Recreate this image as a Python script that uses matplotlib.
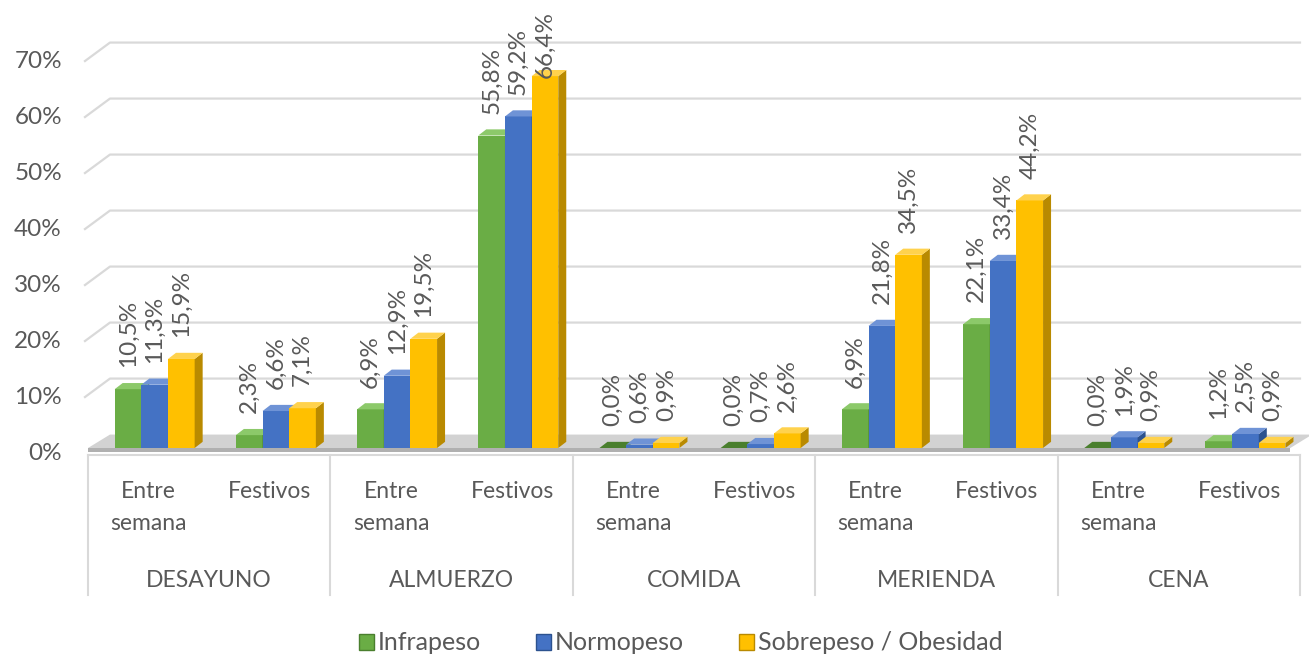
import matplotlib
matplotlib.use("Agg")
import matplotlib.pyplot as plt
from matplotlib.patches import Polygon, Patch

plt.rcParams['font.family'] = ['Lato', 'DejaVu Sans']

groups = ['DESAYUNO', 'ALMUERZO', 'COMIDA', 'MERIENDA', 'CENA']
subcats = ['Entre\nsemana', 'Festivos']
series = ['Infrapeso', 'Normopeso', 'Sobrepeso / Obesidad']

infra = [10.5, 2.3, 6.9, 55.8, 0.0, 0.0, 6.9, 22.1, 0.0, 1.2]
normo = [11.3, 6.6, 12.9, 59.2, 0.6, 0.7, 21.8, 33.4, 1.9, 2.5]
sobre = [15.9, 7.1, 19.5, 66.4, 0.9, 2.6, 34.5, 44.2, 0.9, 0.9]
yticks = [0, 10, 20, 30, 40, 50, 60, 70]

front = ['#6aad45', '#4472c4', '#ffc000']
side = ['#4a7f2e', '#2c528f', '#b98a00']
top = ['#8cc96a', '#6f93d6', '#ffd24d']

TXT = '#595959'
GRID = '#d9d9d9'

fig = plt.figure(figsize=(13.09, 6.57), dpi=100)
ax = fig.add_axes([0, 0, 1, 1])
ax.axis('off')

# pixel scale of the data axes
PX_X = 121.2   # px per category slot
PX_Y = 5.6     # px per percent
ax.set_xlim(-88 / PX_X, 10 + 9 / PX_X)
ax.set_ylim(-209 / PX_Y, 448 / PX_Y)

# depth of back wall
wdx, wdy = 22 / PX_X, 2.4
n = len(infra)

# floor
ax.add_patch(Polygon([(0, 0), (wdx, wdy), (n + 0.1, wdy), (n - 0.08, 0)],
                     closed=True, fc='#d2d2d2', ec='none', zorder=1))
ax.add_patch(Polygon([(0, 0), (n - 0.08, 0), (n - 0.08, -0.7), (0, -0.7)],
                     closed=True, fc='#b0b0b0', ec='none', zorder=1))

# gridlines on back wall + y labels
for g in yticks[1:]:
    ax.plot([-0.025, wdx, n], [g - 0.9, g + wdy, g + wdy], color=GRID, lw=1.6, zorder=0.5)
for g in yticks:
    ax.text(-0.215, g - 0.9, f'{g}%', ha='right', va='center', fontsize=17.5, color=TXT)

# category table below
ax.plot([0, n], [-1.25, -1.25], color=GRID, lw=1.5)
for k in range(0, n + 1, 2):
    ax.plot([k, k], [-1.25, -26.3], color=GRID, lw=1.5)
for i in range(n):
    ax.text(i + 0.5, -5.9, subcats[i % 2], ha='center', va='top', fontsize=16.5,
            color=TXT, linespacing=1.65)
for j, gname in enumerate(groups):
    ax.text(2 * j + 1, -23.6, gname, ha='center', va='center', fontsize=16.5, color=TXT)

# bars with fake 3D faces
bw = 0.22
bdx, bdy = 8 / PX_X, 1.1
data = [infra, normo, sobre]
for i in range(n):
    for k in range(3):
        v = data[k][i]
        x0 = i + 0.22 + k * bw
        ax.bar(x0, v, width=bw, align='edge', color=front[k], edgecolor='none', zorder=3)
        ax.add_patch(Polygon([(x0 + bw, 0), (x0 + bw + bdx, bdy), (x0 + bw + bdx, v + bdy), (x0 + bw, v)],
                             closed=True, fc=side[k], ec='none', zorder=3))
        tc = top[k] if v > 0 else side[k]
        ax.add_patch(Polygon([(x0, v), (x0 + bdx, v + bdy), (x0 + bw + bdx, v + bdy), (x0 + bw, v)],
                             closed=True, fc=tc, ec='none', zorder=3))
        # labels are pushed down near the top edge of the chart
        ly = min(v + 3.9, 66.0)
        ax.text(x0 + bw / 2, ly, f'{v:.1f}%'.replace('.', ','), rotation=90,
                ha='center', va='bottom', fontsize=17.5, color=TXT, zorder=4)

handles = [Patch(facecolor=front[k], edgecolor=side[k]) for k in range(3)]
fig.legend(handles, series, loc='center', bbox_to_anchor=(0.52, 1 - 643 / 657), ncol=3,
           frameon=False, fontsize=18, handlelength=0.6, handleheight=0.6,
           handletextpad=0.15, columnspacing=2.2, labelcolor=TXT)

fig.savefig('out.png', dpi=100)
